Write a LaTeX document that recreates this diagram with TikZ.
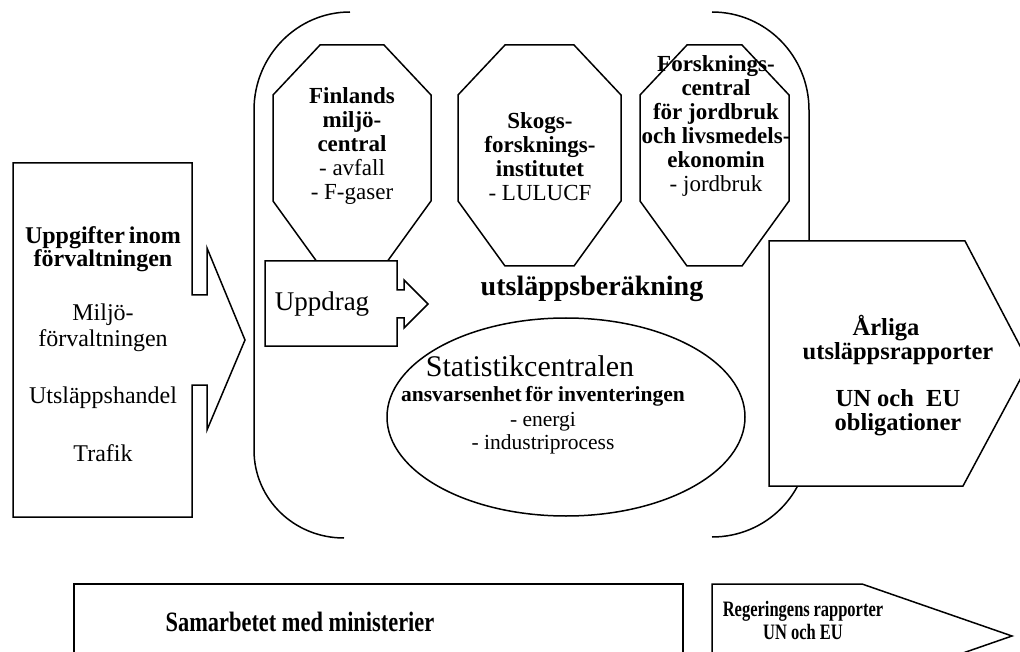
\documentclass[tikz,border=0pt]{standalone}
\usepackage{fontspec}
\setmainfont{Liberation Serif}
\newfontfamily\condfont[FakeStretch=0.8]{Liberation Serif}
\newfontfamily\narrowfont[FakeStretch=0.75]{Liberation Serif}
\tikzset{
  ln/.style={draw=black, line width=1.5pt, line join=miter, line cap=butt},
  shp/.style={ln, fill=white},
  txt/.style={align=center, inner sep=0pt},
}
\newcommand\fs[2]{\fontsize{#1}{#2}\selectfont}
% octagon: x1 x2 y1 y2
\newcommand\myoct[4]{%
  \draw[shp] (#1+47,#3) -- (#2-47,#3) -- (#2,#3+50) -- (#2,#4-65) -- (#2-47,#4) -- (#1+47,#4) -- (#1,#4-65) -- (#1,#3+50) -- cycle;}
\begin{document}
\begin{tikzpicture}[x=1pt,y=-1pt]
\useasboundingbox (0,0) rectangle (1020,652);
% big bracket
\draw[ln] (350,12) .. controls (297,12) and (254,56) .. (254,110) -- (254,450) .. controls (254,499) and (294,538) .. (344,538);
\draw[ln] (712,12) .. controls (766,12) and (809,56) .. (809,110) -- (809,440) .. controls (809,494) and (766,537) .. (712,537);
% left box with arrow
\draw[shp] (13,163) -- (192,163) -- (192,295) -- (207,295) -- (207,248) -- (245,340) -- (207,430) -- (207,385) -- (192,385) -- (192,517) -- (13,517) -- cycle;
% octagons
\myoct{273}{431}{45}{266}
\myoct{458}{621}{45}{266}
\myoct{640}{789}{45}{266}
% Uppdrag arrow box
\draw[shp] (265,261) -- (397,261) -- (397,290) -- (404,290) -- (404,280) -- (428,304) -- (404,328) -- (404,318) -- (397,318) -- (397,346) -- (265,346) -- cycle;
% ellipse
\draw[shp] (566,417) ellipse [x radius=179pt, y radius=99pt];
% Arliga box
\draw[shp] (769,241) -- (965,241) -- (1029,363) -- (963,486) -- (769,486) -- cycle;
% bottom boxes
\draw[shp] (74,584) rectangle (683,700);
\draw[shp] (712,700) -- (712,584) -- (862,584) -- (1012,636) -- (862,688) -- (862,700);
% texts
\node[txt, font=\fs{24}{23}\bfseries] (upp) at (103,249) {Uppgifter\,inom\\förvaltningen};
\node[txt, font=\fs{24}{26}] (milj) at (103,328) {Miljö-\\förvaltningen};
\node[txt, font=\fs{24}{26}] (utsl) at (103,398) {Utsläppshandel};
\node[txt, font=\fs{24}{26}] (traf) at (103,453) {Trafik};
\node[txt, font=\fs{23}{24}] (fin) at (352,146) {\textbf{Finlands}\\\textbf{miljö-}\\\textbf{central}\\- avfall\\- F-gaser};
\node[txt, font=\fs{23}{24}] (skog) at (540,157) {\textbf{Skogs-}\\\textbf{forsknings-}\\\textbf{institutet}\\- LULUCF};
\node[txt, font=\fs{23}{24}] (forsk) at (716,126) {\textbf{Forsknings-}\\\textbf{central}\\\textbf{för jordbruk}\\\textbf{och livsmedels-}\\\textbf{ekonomin}\\- jordbruk};
\node[txt, font=\fs{27}{28}] (uppd) at (322,304) {Uppdrag};
\node[txt, font=\fs{28}{28}\bfseries] (ber) at (592,289) {utsläppsberäkning};
\node[txt, font=\fs{30}{30}] (stat) at (530,366) {Statistikcentralen};
\node[txt, font=\fs{21.5}{22}\bfseries] (ansv) at (543,396) {ansvarsenhet\,för inventeringen};
\node[txt, font=\fs{21.5}{23}] (energ) at (543,433) {- energi\\- industriprocess};
\node[txt, font=\fs{24.5}{24}\bfseries] (arl) at (898,376) {Årliga\hspace*{24pt}\\utsläppsrapporter\\[23pt]UN och\ \ EU\\obligationer};
\node[txt, font=\condfont\fs{28}{28}\bfseries] (sam) at (300,622) {Samarbetet med ministerier};
\node[txt, font=\narrowfont\fs{22}{23}\bfseries] (reg) at (803,620) {Regeringens\,rapporter\\UN och EU};
\end{tikzpicture}
\end{document}
